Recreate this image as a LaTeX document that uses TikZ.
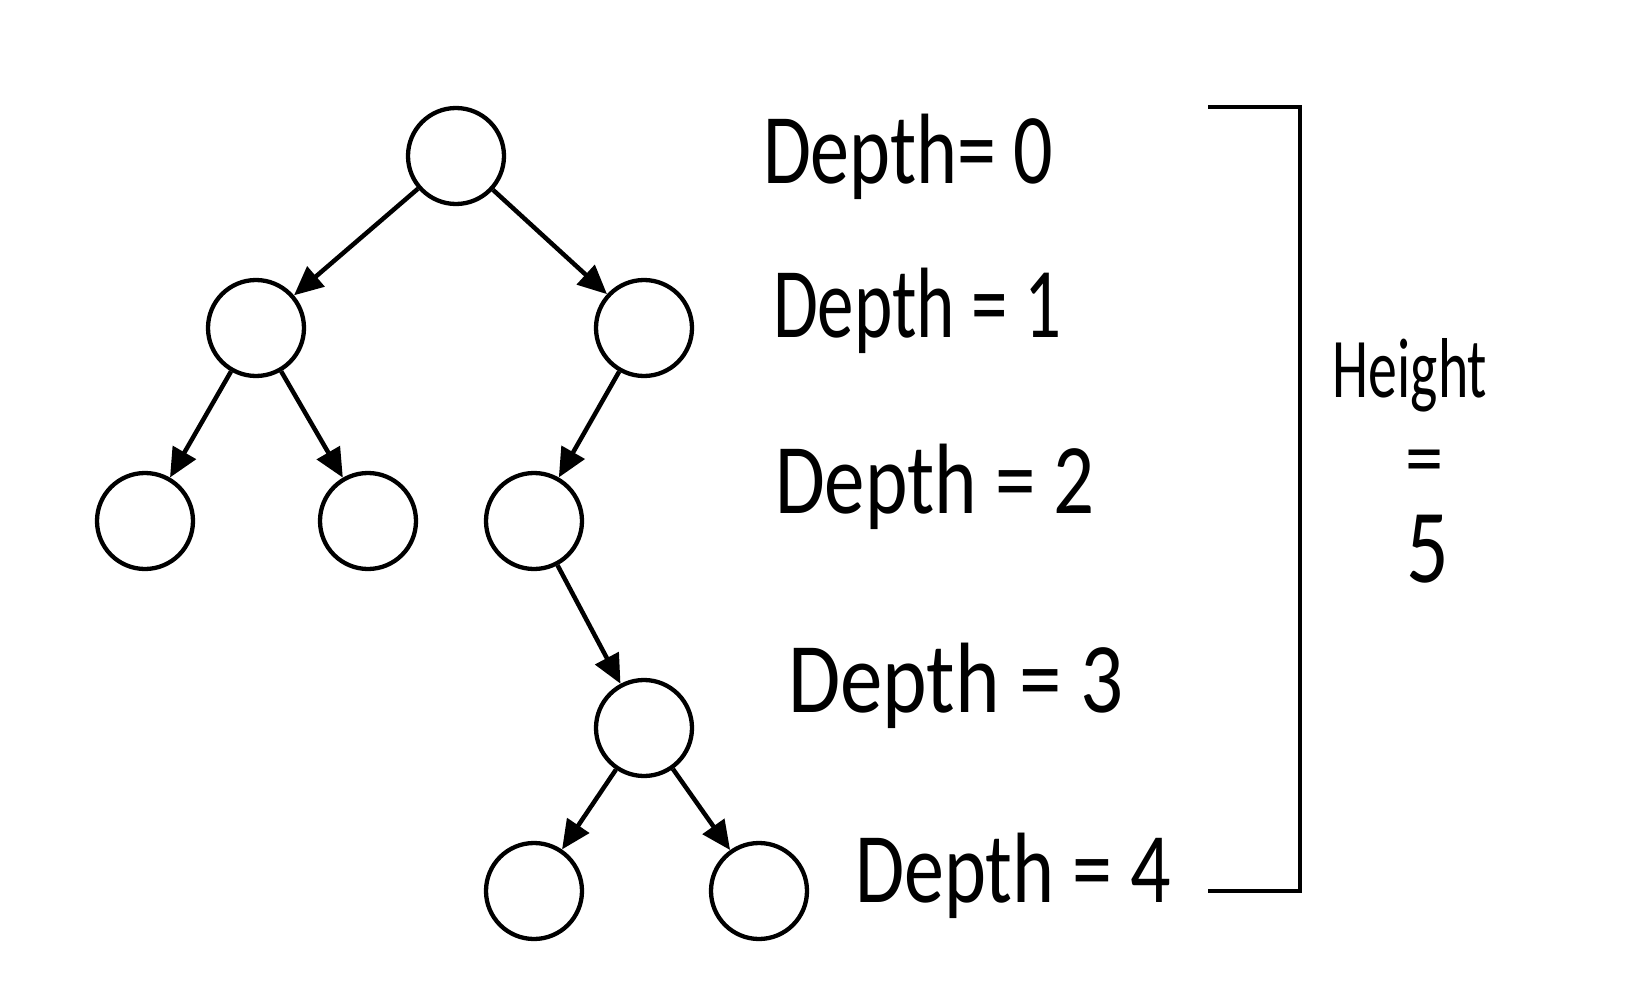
\documentclass[tikz,border=0pt]{standalone}
\usepackage{fontspec}
\setmainfont{Carlito}
\usetikzlibrary{arrows.meta}
\newcommand{\hw}[3]{{\fontsize{#1}{#1}\selectfont\scalebox{#2}[1]{#3}}}
\begin{document}
\begin{tikzpicture}[x=1pt,y=-1pt,
  tnode/.style={circle,draw,line width=4.3pt,minimum size=96pt,inner sep=0pt},
  edge/.style={line width=4.5pt,-{Triangle[length=29pt,width=26pt]}},
  lbl/.style={anchor=base west,inner sep=0pt,outer sep=0pt},
  clbl/.style={anchor=base,inner sep=0pt,outer sep=0pt}]
\useasboundingbox (0,0) rectangle (1628,998);
% tree nodes
\node[tnode] (r)   at (456,156) {};
\node[tnode] (a)   at (256,328) {};
\node[tnode] (b)   at (644,328) {};
\node[tnode] (aa)  at (145,521) {};
\node[tnode] (ab)  at (368,521) {};
\node[tnode] (ba)  at (534,521) {};
\node[tnode] (c)   at (644,728) {};
\node[tnode] (ca)  at (534,891) {};
\node[tnode] (cb)  at (759,891) {};
% edges
\draw[edge] (r) -- (a);
\draw[edge] (r) -- (b);
\draw[edge] (a) -- (aa);
\draw[edge] (a) -- (ab);
\draw[edge] (b) -- (ba);
\draw[edge] (ba) -- (c);
\draw[edge] (c) -- (ca);
\draw[edge] (c) -- (cb);
% depth labels
\node[lbl] (d0) at (763,183) {\hw{100}{0.78}{Depth= 0}};
\node[lbl] (d1) at (773,337) {\hw{100}{0.73}{Depth = 1}};
\node[lbl] (d2) at (775,513) {\hw{100}{0.81}{Depth = 2}};
\node[lbl] (d3) at (788,712) {\hw{100}{0.85}{Depth = 3}};
\node[lbl] (d4) at (855,902) {\hw{100}{0.80}{Depth = 4}};
% bracket
\coordinate (bt) at (1208,107);
\coordinate (bb) at (1208,891);
\draw[line width=3.5pt] (bt) -- (bt -| 1300,0) -- (bb -| 1300,0) -- (bb);
% height label
\node[clbl] (ht) at (1410,397) {\hw{85}{0.68}{Height}};
\node[clbl,text height=0.3em,text depth=0pt] (eq) at (1425,486) {\hw{85}{0.9}{=}};
\node[clbl] (five) at (1428,582) {\hw{105}{0.8}{5}};
\end{tikzpicture}
\end{document}
